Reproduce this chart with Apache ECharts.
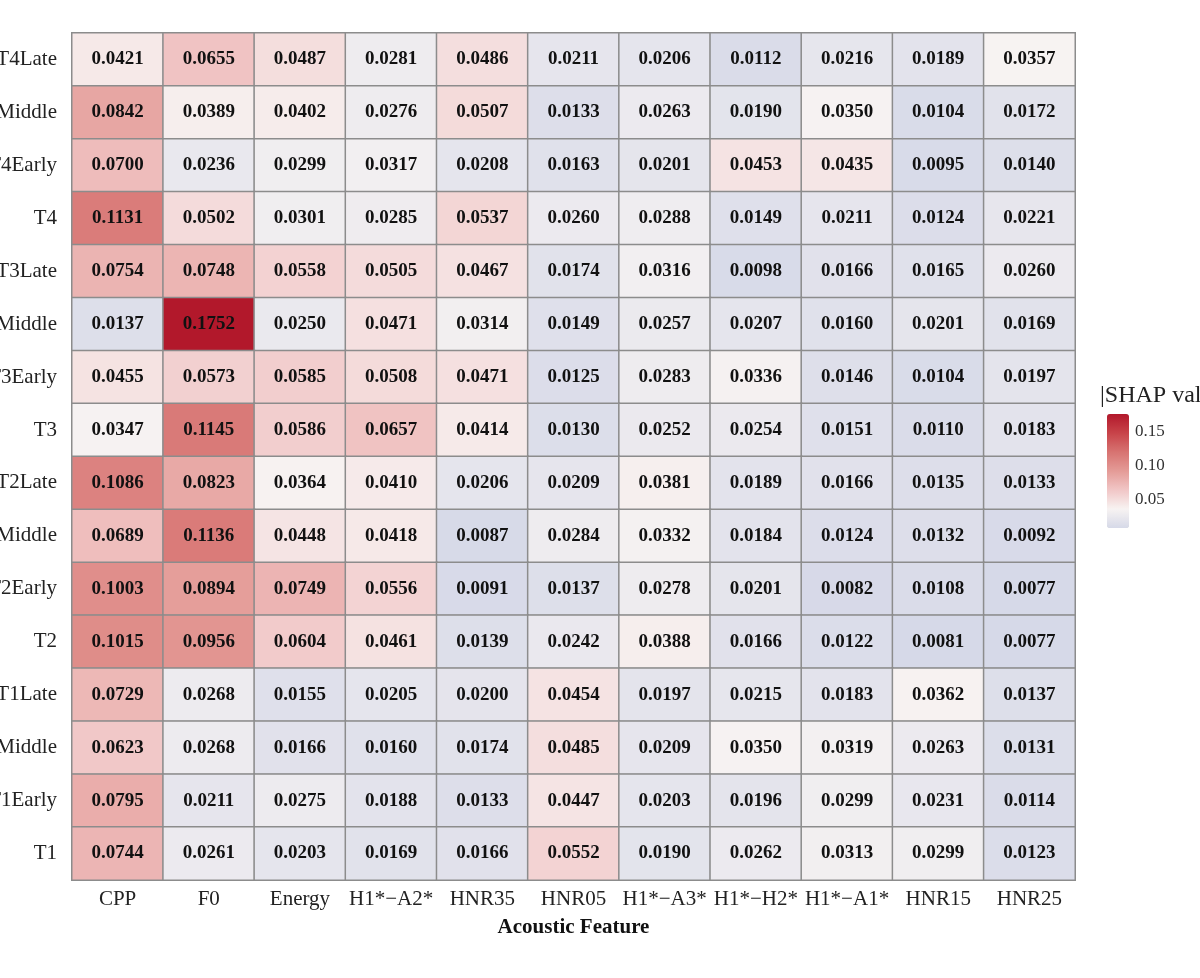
<!DOCTYPE html>
<html>
<head>
<meta charset="utf-8">
<script src="https://cdn.jsdelivr.net/npm/echarts@6/dist/echarts.min.js"></script>
<style>
html,body{margin:0;padding:0;background:#fff;}
#chart{width:1200px;height:978px;}
</style>
</head>
<body>
<div id="chart"></div>
<script>
// Columns (acoustic features)
const features = ['CPP','F0','Energy','H1*\u2212A2*','HNR35','HNR05','H1*\u2212A3*','H1*\u2212H2*','H1*\u2212A1*','HNR15','HNR25'];
// Rows listed top to bottom
const rowNames = ['T4Late','T4Middle','T4Early','T4','T3Late','T3Middle','T3Early','T3','T2Late','T2Middle','T2Early','T2','T1Late','T1Middle','T1Early','T1'];

const rowT4Late   = [0.0421,0.0655,0.0487,0.0281,0.0486,0.0211,0.0206,0.0112,0.0216,0.0189,0.0357];
const rowT4Middle = [0.0842,0.0389,0.0402,0.0276,0.0507,0.0133,0.0263,0.0190,0.0350,0.0104,0.0172];
const rowT4Early  = [0.0700,0.0236,0.0299,0.0317,0.0208,0.0163,0.0201,0.0453,0.0435,0.0095,0.0140];
const rowT4       = [0.1131,0.0502,0.0301,0.0285,0.0537,0.0260,0.0288,0.0149,0.0211,0.0124,0.0221];
const rowT3Late   = [0.0754,0.0748,0.0558,0.0505,0.0467,0.0174,0.0316,0.0098,0.0166,0.0165,0.0260];
const rowT3Middle = [0.0137,0.1752,0.0250,0.0471,0.0314,0.0149,0.0257,0.0207,0.0160,0.0201,0.0169];
const rowT3Early  = [0.0455,0.0573,0.0585,0.0508,0.0471,0.0125,0.0283,0.0336,0.0146,0.0104,0.0197];
const rowT3       = [0.0347,0.1145,0.0586,0.0657,0.0414,0.0130,0.0252,0.0254,0.0151,0.0110,0.0183];
const rowT2Late   = [0.1086,0.0823,0.0364,0.0410,0.0206,0.0209,0.0381,0.0189,0.0166,0.0135,0.0133];
const rowT2Middle = [0.0689,0.1136,0.0448,0.0418,0.0087,0.0284,0.0332,0.0184,0.0124,0.0132,0.0092];
const rowT2Early  = [0.1003,0.0894,0.0749,0.0556,0.0091,0.0137,0.0278,0.0201,0.0082,0.0108,0.0077];
const rowT2       = [0.1015,0.0956,0.0604,0.0461,0.0139,0.0242,0.0388,0.0166,0.0122,0.0081,0.0077];
const rowT1Late   = [0.0729,0.0268,0.0155,0.0205,0.0200,0.0454,0.0197,0.0215,0.0183,0.0362,0.0137];
const rowT1Middle = [0.0623,0.0268,0.0166,0.0160,0.0174,0.0485,0.0209,0.0350,0.0319,0.0263,0.0131];
const rowT1Early  = [0.0795,0.0211,0.0275,0.0188,0.0133,0.0447,0.0203,0.0196,0.0299,0.0231,0.0114];
const rowT1       = [0.0744,0.0261,0.0203,0.0169,0.0166,0.0552,0.0190,0.0262,0.0313,0.0299,0.0123];

const rowsTopToBottom = [rowT4Late,rowT4Middle,rowT4Early,rowT4,rowT3Late,rowT3Middle,rowT3Early,rowT3,
  rowT2Late,rowT2Middle,rowT2Early,rowT2,rowT1Late,rowT1Middle,rowT1Early,rowT1];

const colorbarTicks = [0.05, 0.10, 0.15];
const valueMin = 0.0077, valueMax = 0.1752;

// category axis runs bottom -> top
const yCats = rowNames.slice().reverse();
const data = [];
rowsTopToBottom.forEach((row, ri) => {
  const yName = rowNames[ri];
  row.forEach((v, ci) => data.push([features[ci], yName, v]));
});

const serif = 'Liberation Serif, Times New Roman, serif';
const chart = echarts.init(document.getElementById('chart'), null, {renderer:'canvas'});
chart.setOption({
  backgroundColor: '#ffffff',
  animation: false,
  title: [{
    text: '|SHAP value|',
    left: 1100, top: 384,
    padding: 0,
    textStyle: {fontFamily: serif, fontSize: 24, fontWeight: 'normal', color: '#222'}
  }],
  grid: [
    {left: 72, right: 125, top: 33, bottom: 98, containLabel: false, outerBoundsMode: 'none'},
    {left: 1107, top: 414, width: 22, height: 114, containLabel: false, outerBoundsMode: 'none'}
  ],
  xAxis: [{
    type: 'category', data: features, gridIndex: 0,
    axisLine: {show: false}, axisTick: {show: false},
    axisLabel: {fontFamily: serif, fontSize: 21, color: '#222', margin: 9, interval: 0},
    name: 'Acoustic Feature', nameLocation: 'middle', nameGap: 37,
    nameTextStyle: {fontFamily: serif, fontSize: 21, fontWeight: 'bold', color: '#111'}
  },{
    type: 'value', gridIndex: 1, show: false, min: 0, max: 1
  }],
  yAxis: [{
    type: 'category', data: yCats, gridIndex: 0,
    axisLine: {show: false}, axisTick: {show: false},
    axisLabel: {fontFamily: serif, fontSize: 21, color: '#222', margin: 15}
  },{
    type: 'value', gridIndex: 1, position: 'right',
    min: valueMin, max: valueMax,
    axisLine: {show: false}, axisTick: {show: false}, splitLine: {show: false},
    axisLabel: {
      fontFamily: serif, fontSize: 17, color: '#333', margin: 6,
      customValues: colorbarTicks,
      formatter: v => v.toFixed(2)
    }
  }],
  visualMap: {
    type: 'continuous',
    min: valueMin, max: valueMax,
    seriesIndex: 0,
    left: 1107, top: 414,
    itemWidth: 22, itemHeight: 114,
    padding: 0,
    calculable: false,
    hoverLink: false,
    text: ['', ''],
    showLabel: false,
    inRange: {color: ['#d6d9e8','#f7f3f2','#f1c6c6','#e49b97','#d77371','#c84349','#b2182b']}
  },
  series: [{
    type: 'heatmap',
    xAxisIndex: 0, yAxisIndex: 0,
    data: data,
    label: {
      show: true,
      fontFamily: serif, fontSize: 19, fontWeight: 'bold', color: '#111',
      formatter: p => p.value[2].toFixed(4)
    },
    itemStyle: {borderColor: '#8c8c8c', borderWidth: 1.5},
    emphasis: {disabled: true}
  }]
});
</script>
</body>
</html>
